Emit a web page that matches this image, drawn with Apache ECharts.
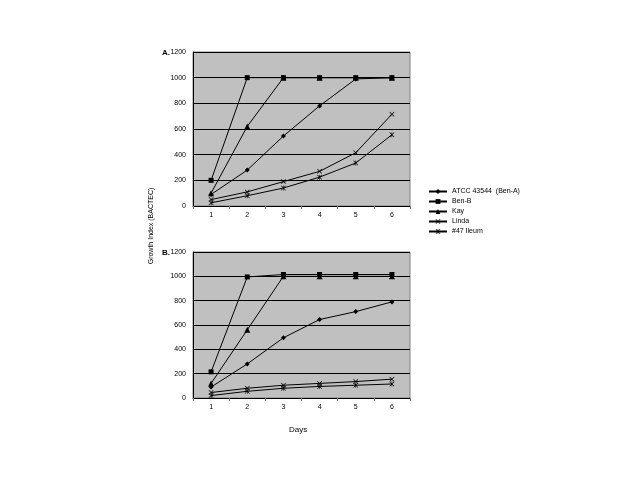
<!DOCTYPE html>
<html>
<head>
<meta charset="utf-8">
<script src="https://cdn.jsdelivr.net/npm/echarts@6/dist/echarts.min.js"></script>
<style>
  html, body { margin: 0; padding: 0; background: #fff; }
  #chart { width: 640px; height: 480px; }
</style>
</head>
<body>
<div id="chart"></div>
<script>
const days = ['1', '2', '3', '4', '5', '6'];
const seriesNames = ['ATCC 43544  (Ben-A)', 'Ben-B', 'Kay', 'Linda', '#47 Ileum'];

// panel A
const atccA = [90, 280, 545, 780, 990, 1000];
const benBA = [200, 1000, 1000, 1000, 1000, 1000];
const kayA = [100, 620, 1000, 1000, 1000, 1000];
const lindaA = [50, 110, 190, 270, 415, 715];
const ileumA = [25, 80, 140, 225, 335, 555];

// panel B
const atccB = [90, 280, 495, 645, 710, 790];
const benBB = [215, 995, 1015, 1015, 1015, 1015];
const kayB = [120, 560, 1000, 1000, 1000, 1000];
const lindaB = [45, 80, 105, 120, 135, 155];
const ileumB = [20, 55, 80, 95, 105, 115];

const xPath = 'path://M0,1L1,0L5,4L9,0L10,1L6,5L10,9L9,10L5,6L1,10L0,9L4,5Z';
const starPath = 'path://M0,1L1,0L4.4,3.4L4.4,0L5.6,0L5.6,3.4L9,0L10,1L6.2,4.6L6.2,5.4L10,9L9,10L5.6,6.6L5.6,10L4.4,10L4.4,6.6L1,10L0,9L3.8,5.4L3.8,4.6Z';
const symbols = ['diamond', 'rect', 'triangle', xPath, starPath];
const sizes = [5, 5, 6, 5, 5];

const grids = [
  { left: 193, top: 52, width: 217, height: 154 },
  { left: 193, top: 252, width: 217, height: 146 }
];

function axisX(i) {
  return {
    type: 'category', gridIndex: i, data: days,
    axisLine: { lineStyle: { color: '#000', width: 1 } },
    axisTick: { show: true, length: 3, lineStyle: { color: '#777' } },
    axisLabel: { color: '#000', fontSize: 7, fontFamily: 'Liberation Sans', margin: 6 }
  };
}
function axisY(i) {
  return {
    type: 'value', gridIndex: i, min: 0, max: 1200, interval: 200,
    axisLine: { show: true, lineStyle: { color: '#000', width: 1 } },
    axisTick: { show: false },
    axisLabel: { color: '#000', fontSize: 7, fontFamily: 'Liberation Sans', margin: 7,
      formatter: v => String(v) },
    splitLine: { show: true, lineStyle: { color: '#000', width: 1 } }
  };
}

function makeSeries(i, arrays) {
  return arrays.map((d, k) => ({
    name: seriesNames[k], type: 'line', xAxisIndex: i, yAxisIndex: i,
    data: d, symbol: symbols[k], symbolSize: sizes[k], showAllSymbol: true,
    lineStyle: { color: '#000', width: 1 },
    itemStyle: { color: '#000' },
    emphasis: { disabled: true },
    animation: false
  }));
}

const chart = echarts.init(document.getElementById('chart'));
chart.setOption({
  backgroundColor: '#fff',
  animation: false,
  grid: grids.map(g => Object.assign({
    show: true, backgroundColor: '#c0c0c0', borderColor: '#808080', borderWidth: 1
  }, g)),
  xAxis: [axisX(0), axisX(1)],
  yAxis: [axisY(0), axisY(1)],
  legend: {
    orient: 'vertical', left: 423, top: 183,
    itemWidth: 18, itemHeight: 6, itemGap: 3, padding: 5,
    data: seriesNames,
    textStyle: { color: '#000', fontSize: 7, fontFamily: 'Liberation Sans' }
  },
  title: [
    { text: 'A.', left: 157, top: 44, textStyle: { fontSize: 8, fontWeight: 'bold', color: '#000', fontFamily: 'Liberation Sans' } },
    { text: 'B.', left: 157, top: 244, textStyle: { fontSize: 8, fontWeight: 'bold', color: '#000', fontFamily: 'Liberation Sans' } }
  ],
  graphic: [
    { type: 'text', x: 151, y: 226, rotation: Math.PI / 2,
      style: { text: 'Growth Index (BACTEC)', fontSize: 7, fontFamily: 'Liberation Sans', fill: '#000',
        align: 'center', verticalAlign: 'middle' } },
    { type: 'text', left: 289, top: 426,
      style: { text: 'Days', fontSize: 8, fontFamily: 'Liberation Sans', fill: '#000' } }
  ],
  series: [
    ...makeSeries(0, [atccA, benBA, kayA, lindaA, ileumA]),
    ...makeSeries(1, [atccB, benBB, kayB, lindaB, ileumB])
  ]
});
</script>
</body>
</html>
